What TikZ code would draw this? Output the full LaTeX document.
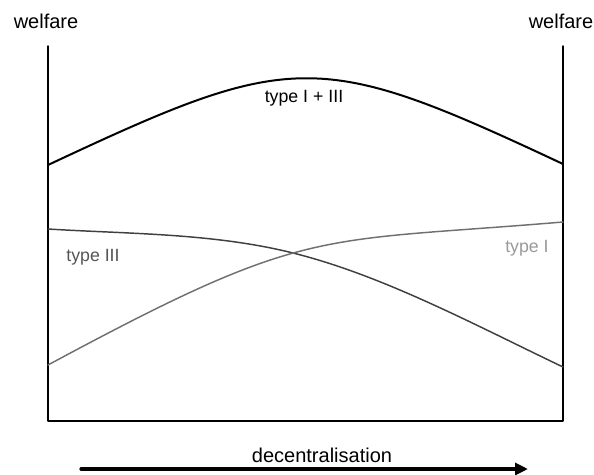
\documentclass[tikz,border=0pt]{standalone}
\usepackage{fontspec}
\setmainfont{Liberation Sans}
\usepackage{tikz}
\usetikzlibrary{arrows.meta,calc}
\definecolor{darkcurve}{HTML}{404040}
\definecolor{lightcurve}{HTML}{707070}
\definecolor{darklabel}{HTML}{555555}
\definecolor{lightlabel}{HTML}{999999}
\tikzset{
  axisline/.style={line width=1.1pt,black},
  axislabel/.style={inner sep=0pt,font=\fontsize{15}{18}\selectfont},
  curvelabel/.style={inner sep=0pt,font=\fontsize{13.3}{16}\selectfont}
}
\begin{document}
\begin{tikzpicture}[line cap=round,line join=round,x=0.75pt,y=-0.75pt]
                \useasboundingbox (0,0) rectangle (594,475);
                % frame of the plot
                \coordinate (lt) at (48,46);
                \coordinate (lb) at (48,421);
                \coordinate (rt) at (563,46);
                \coordinate (rb) at (563,421);
                \draw [axisline] (lt) -- (lb) -- (rb) -- (rt);
                % welfare curves
                \coordinate (x) at (293,253);
                \draw [line width=1.5pt,black] (48,165) .. controls (293,50) and (318,49) .. (563,164);
                \draw [line width=1.1pt,darkcurve] (48,229) .. controls (128,234) and (213,233) .. (x)
                                                      .. controls (383,275.5) and (473,324) .. (563,367);
                \draw [line width=1.1pt,lightcurve] (48,365) .. controls (308,225) and (313,243) .. (563,222);
                % labels
                \node [axislabel] (wl) at (46,21) {welfare};
                \node [axislabel] (wr) at (561,21) {welfare};
                \node [curvelabel] (sum) at (304,98) {type I + III};
                \node [curvelabel,text=darklabel] (t3) at (93,257) {type III};
                \node [curvelabel,text=lightlabel] (t1) at (527,248) {type I};
                \node [axislabel] (dec) at (322,455) {decentralisation};
                % direction arrow
                \coordinate (as) at (81,469);
                \coordinate (ae) at (528,469);
                \draw [line width=2.4pt,-{Triangle[length=9.75pt,width=9pt]}] (as) -- (ae);
\end{tikzpicture}
\end{document}
